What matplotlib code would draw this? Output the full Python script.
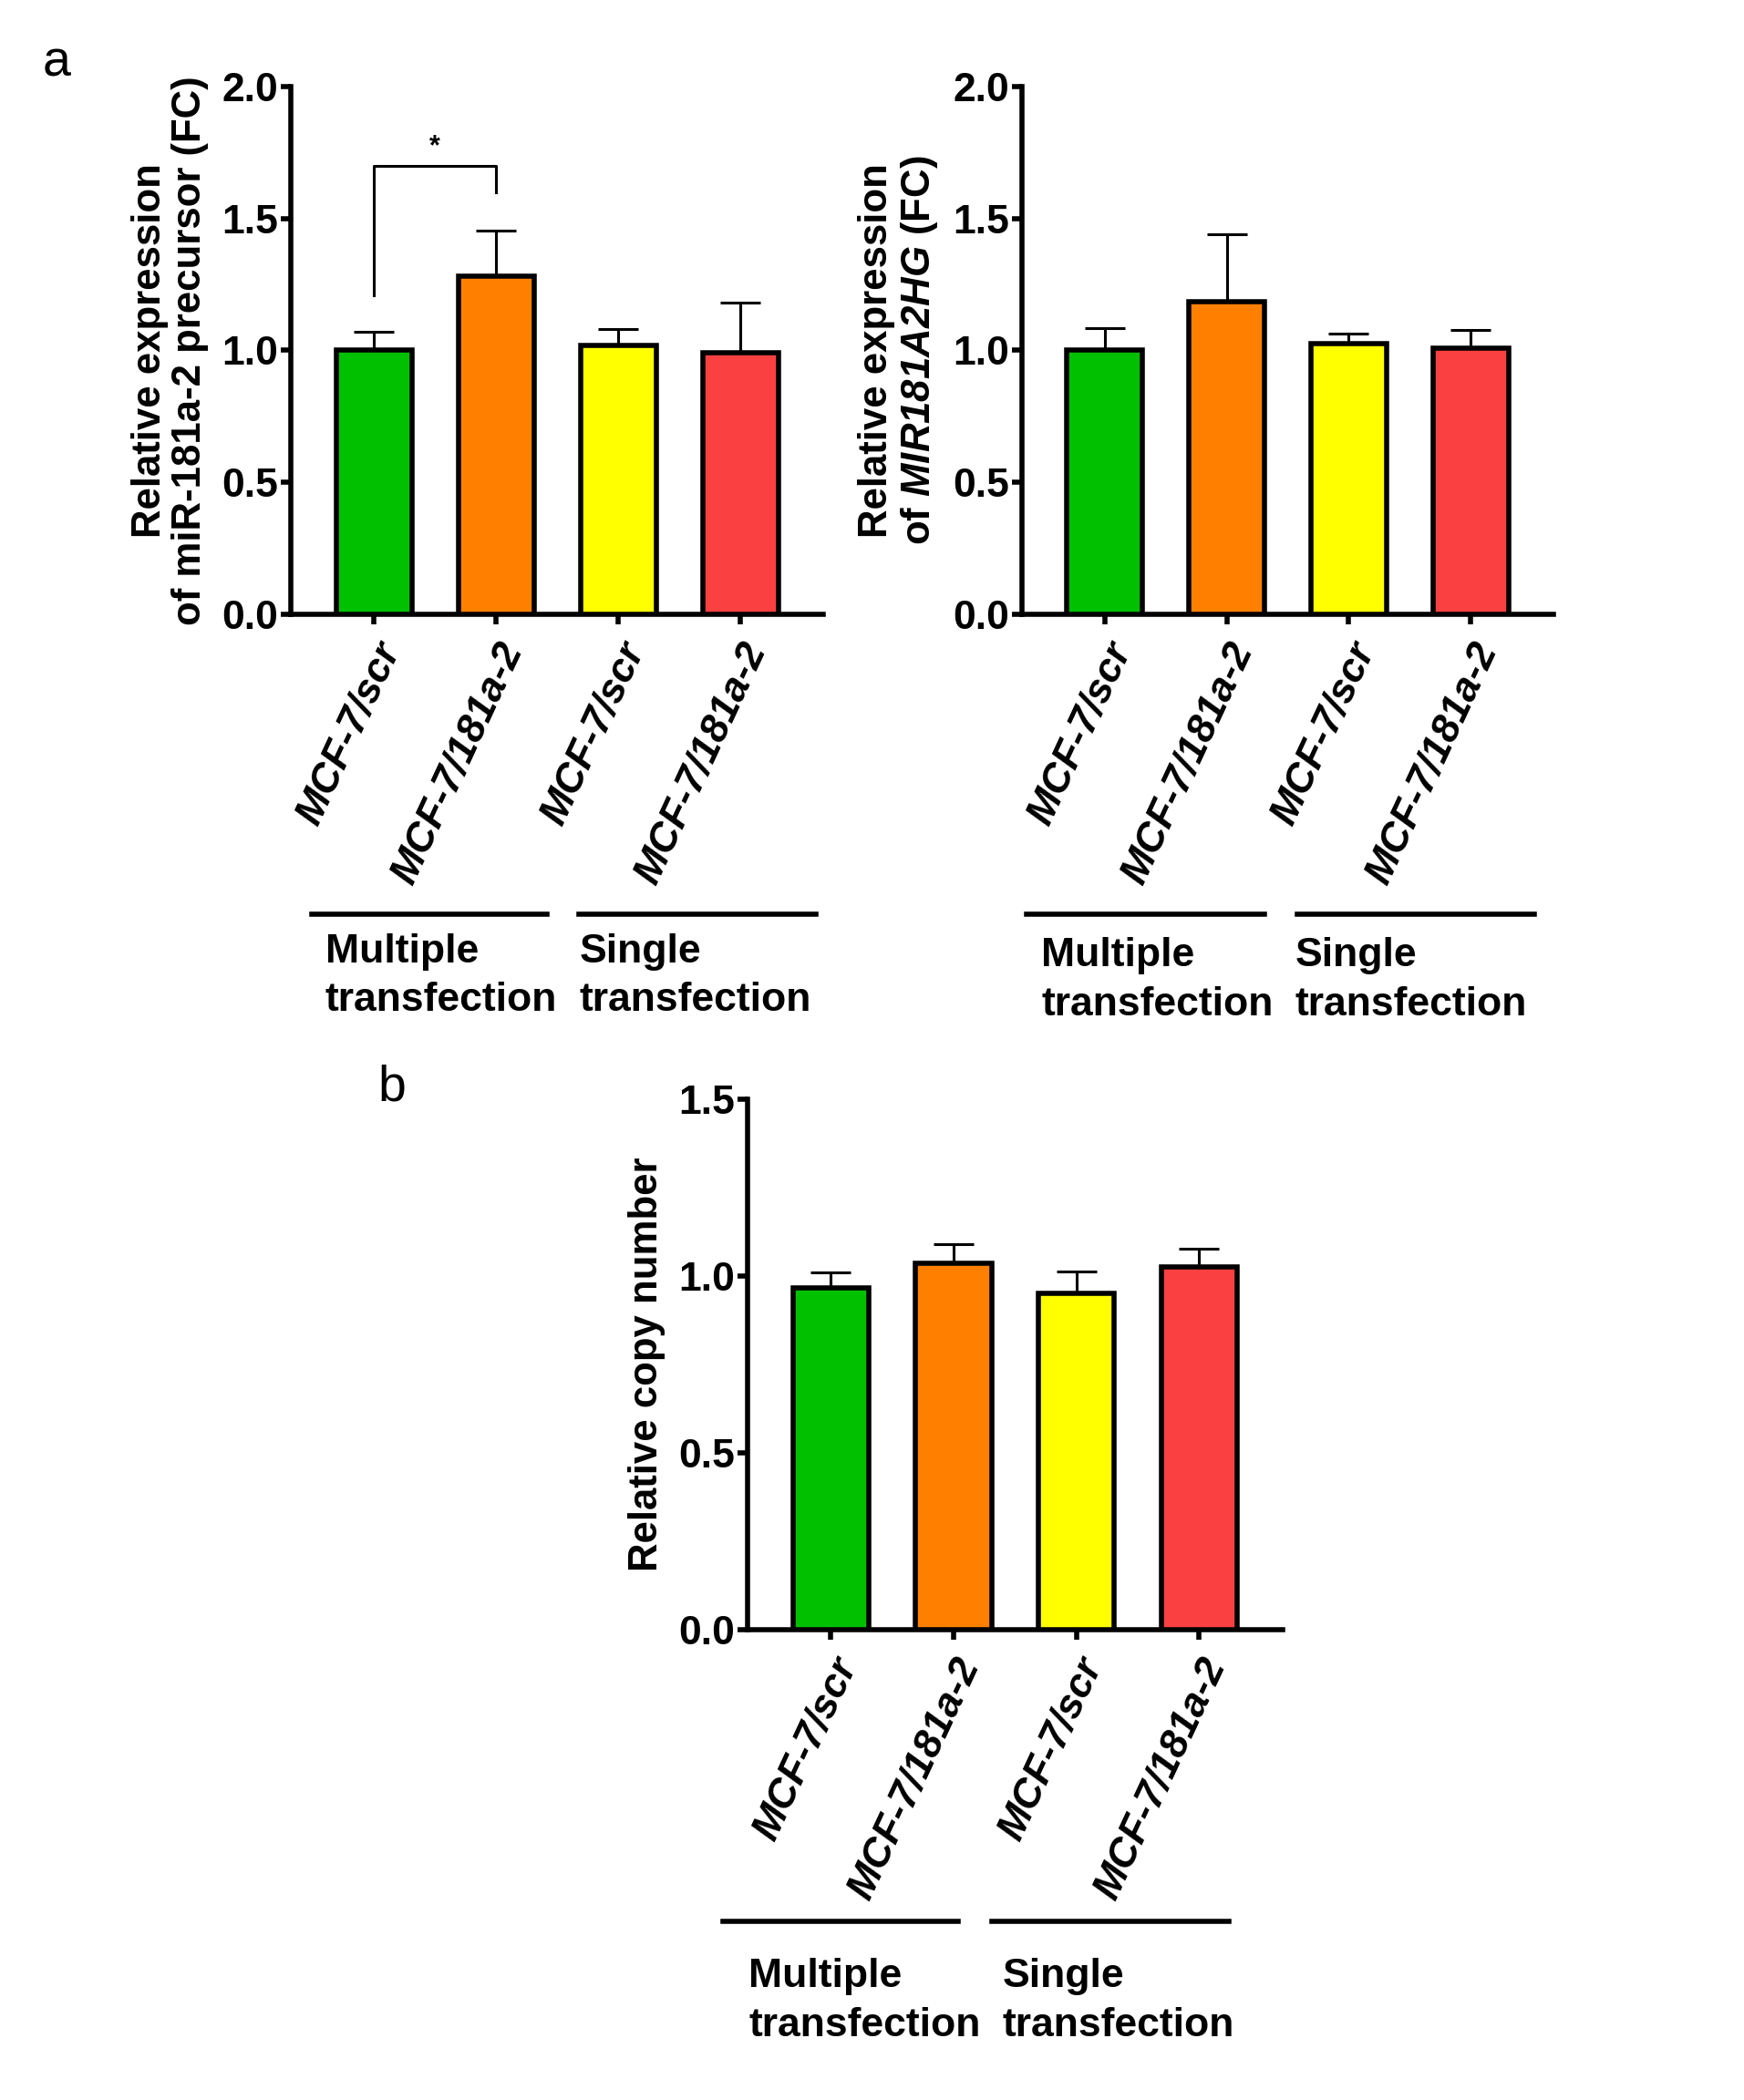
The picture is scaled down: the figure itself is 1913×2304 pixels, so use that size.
import numpy as np
import matplotlib.pyplot as plt
from matplotlib.transforms import blended_transform_factory

plt.rcParams['font.family'] = ['Liberation Sans', 'DejaVu Sans']
plt.rcParams['font.weight'] = 'bold'
plt.rcParams['mathtext.fontset'] = 'custom'
plt.rcParams['mathtext.bfit'] = 'Liberation Sans:italic:bold'
plt.rcParams['mathtext.rm'] = 'Liberation Sans:bold'

groups = ['MCF-7/scr', 'MCF-7/181a-2', 'MCF-7/scr', 'MCF-7/181a-2']
colors = ['#00c000', '#ff8000', '#ffff00', '#fa4040']

# panel a, left: miR-181a-2 precursor
precursor_mean = [1.00, 1.28, 1.02, 0.99]
precursor_err = [0.07, 0.175, 0.06, 0.19]
# panel a, right: MIR181A2HG
host_mean = [1.00, 1.185, 1.025, 1.01]
host_err = [0.085, 0.255, 0.04, 0.068]
# panel b: copy number
copy_mean = [0.965, 1.037, 0.950, 1.025]
copy_err = [0.044, 0.052, 0.062, 0.051]

W, H = 1913, 2304
fig = plt.figure(figsize=(W / 100, H / 100), dpi=100)


def bar_panel(rect, mean, err, ylim, yticks, ylabel, line_spans, text_x, line_y, text_y):
    ax = fig.add_axes(rect)
    x = np.arange(len(mean))
    ax.errorbar(x, mean, yerr=[np.zeros(len(err)), err], fmt='none', ecolor='black',
                elinewidth=2.2, capsize=16, capthick=2.2, zorder=2)
    ax.bar(x, mean, width=0.62, color=colors, edgecolor='black', linewidth=4, zorder=3)
    ax.set_xlim(-0.68, 3.68)
    ax.set_ylim(*ylim)
    ax.set_yticks(yticks)
    ax.set_yticklabels(['%.1f' % t for t in yticks], fontsize=32, fontweight='bold')
    ax.set_xticks(x)
    ax.set_xticklabels(groups, rotation=65, ha='right', va='top', rotation_mode='anchor',
                       fontsize=32, fontweight='bold', fontstyle='italic')
    for s in ['top', 'right']:
        ax.spines[s].set_visible(False)
    for s in ['left', 'bottom']:
        ax.spines[s].set_linewidth(4)
    ax.tick_params(width=4, length=8, pad=2)
    ax.tick_params(axis='x', pad=10)
    ax.set_ylabel(ylabel, fontsize=31.5, fontweight='bold', linespacing=1.12, labelpad=10)
    tr = blended_transform_factory(ax.transData, ax.transAxes)
    for (x0, x1), tx, name in zip(line_spans, text_x, ['Multiple\ntransfection', 'Single\ntransfection']):
        ax.plot([x0, x1], [line_y, line_y], color='black', lw=4, transform=tr, clip_on=False)
        ax.text(tx, text_y, name, transform=tr, ha='left', va='top', fontsize=32,
                fontweight='bold', linespacing=1.4)
    return ax


ax1 = bar_panel([0.1668, 0.7075, 0.3053, 0.2513], precursor_mean, precursor_err, (0, 2.0),
                [0.0, 0.5, 1.0, 1.5, 2.0],
                'Relative expression\nof miR-181a-2 precursor (FC)',
                [(-0.51, 1.42), (1.68, 3.62)], [-0.40, 1.68], -0.569, -0.604)
# significance bracket
ax1.plot([0, 0, 1, 1], [1.21, 1.70, 1.70, 1.60], color='black', lw=2.2, zorder=4)
ax1.text(0.5, 1.72, '*', ha='center', va='bottom', fontsize=22, fontweight='bold')

ax2 = bar_panel([0.586, 0.7075, 0.3048, 0.2513], host_mean, host_err, (0, 2.0),
                [0.0, 0.5, 1.0, 1.5, 2.0],
                'Relative expression\nof $\\mathbfit{MIR181A2HG}$ (FC)',
                [(-0.64, 1.31), (1.58, 3.52)], [-0.52, 1.56], -0.569, -0.612)

ax3 = bar_panel([0.4286, 0.224, 0.3068, 0.2526], copy_mean, copy_err, (0, 1.5),
                [0.0, 0.5, 1.0, 1.5],
                'Relative copy number',
                [(-0.88, 1.04), (1.31, 3.24)], [-0.67, 1.40], -0.55, -0.619)

fig.text(62 / W, 1 - 70 / H, 'a', fontsize=40, fontweight='normal', ha='center', va='center')
fig.text(430 / W, 1 - 1193 / H, 'b', fontsize=40, fontweight='normal', ha='center', va='center')

fig.savefig('out.png', dpi=100, facecolor='white')
